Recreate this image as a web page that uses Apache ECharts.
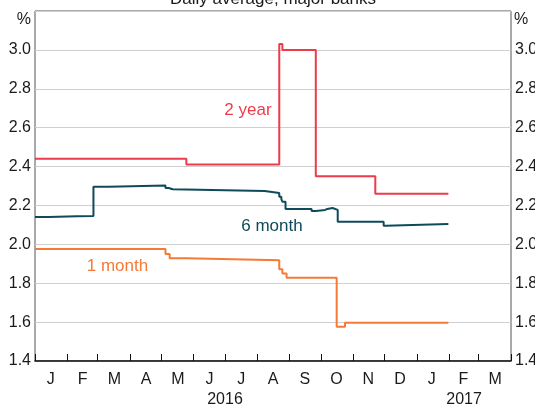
<!DOCTYPE html>
<html><head><meta charset="utf-8">
<script src="https://cdn.jsdelivr.net/npm/echarts@6/dist/echarts.min.js"></script>
<style>html,body{margin:0;padding:0;background:#fff}#c{width:535px;height:408px}</style>
</head><body><div id="c"></div>
<script>
const monthLabels = ['J','F','M','A','M','J','J','A','S','O','N','D','J','F','M'];
const yearLabels = ['2016','2017'];
const yearCentres = ['2016-07-01','2017-02-15'];
const yMin = 1.4, yMax = 3.2, yStep = 0.2;

const twoYear = [
  ['2016-01-01',2.44],['2016-05-25',2.41],['2016-08-22',3.03],['2016-08-25',3.00],
  ['2016-09-26',2.35],['2016-11-22',2.26],['2017-01-31',2.26]
];
const sixMonth = [
  ['2016-01-01',2.141],['2016-01-14',2.144],['2016-02-10',2.146],['2016-02-26',2.296],
  ['2016-03-12',2.303],['2016-05-05',2.29],['2016-05-08',2.283],['2016-05-12',2.274],
  ['2016-08-08',2.264],['2016-08-22',2.245],['2016-08-24',2.233],['2016-08-25',2.219],
  ['2016-08-28',2.182],['2016-09-22',2.171],['2016-09-26',2.177],['2016-10-05',2.182],
  ['2016-10-07',2.187],['2016-10-12',2.177],['2016-10-17',2.116],['2016-11-30',2.096],
  ['2016-12-02',2.104],['2017-01-31',2.104]
];
const oneMonth = [
  ['2016-01-01',1.976],['2016-05-05',1.95],['2016-05-09',1.928],['2016-05-25',1.918],
  ['2016-08-22',1.872],['2016-08-25',1.85],['2016-08-29',1.828],['2016-10-16',1.576],
  ['2016-10-24',1.597],['2017-01-31',1.597]
];

const FONT = '"Liberation Sans", Arial, Helvetica, sans-serif';
const TXT = '#1a1a1a';
const RED = '#ec3b4b', TEAL = '#0e4a5a', ORANGE = '#f47a36';

const chart = echarts.init(document.getElementById('c'), null, {renderer:'canvas'});
const yAxisBase = {
  type:'value', min:yMin, max:yMax, interval:yStep,
  axisLine:{show:false}, axisTick:{show:false},
  axisLabel:{fontFamily:FONT, fontSize:16, color:TXT, margin:4,
    formatter:v => v > 3.1 ? '' : v.toFixed(1)}
};
chart.setOption({
  animation:false,
  textStyle:{fontFamily:FONT},
  grid:{left:35, right:24, top:11, bottom:47, show:true, borderColor:'#555', borderWidth:1,
        backgroundColor:'transparent', outerBoundsMode:'none', containLabel:false},
  xAxis:[
    {type:'time', min:'2016-01-01', max:'2017-04-01', splitNumber:15,
     minInterval:28*86400000, maxInterval:31*86400000,
     axisLine:{lineStyle:{color:'#111', width:1.5}},
     axisTick:{inside:true, length:7, lineStyle:{color:'#111', width:1}},
     axisLabel:{show:false}, splitLine:{show:false}},
    {type:'category', data:monthLabels, position:'bottom', boundaryGap:true,
     axisLine:{show:false}, axisTick:{show:false}, splitLine:{show:false},
     axisLabel:{interval:0, fontFamily:FONT, fontSize:16, color:TXT, margin:11}}
  ],
  yAxis:[
    Object.assign({}, yAxisBase, {position:'left',
      splitLine:{show:true, lineStyle:{color:'#cfcfcf', width:1}}}),
    Object.assign({}, yAxisBase, {position:'right', splitLine:{show:false}})
  ],
  series:[
    {type:'line', name:'2 year', data:twoYear, step:'end', showSymbol:false,
     lineStyle:{color:RED, width:2}, itemStyle:{color:RED}},
    {type:'line', name:'6 month', data:sixMonth, step:'end', showSymbol:false,
     lineStyle:{color:TEAL, width:2}, itemStyle:{color:TEAL}},
    {type:'line', name:'1 month', data:oneMonth, step:'end', showSymbol:false,
     lineStyle:{color:ORANGE, width:2}, itemStyle:{color:ORANGE}}
  ]
});

const gl = [];
const txt = (s, x, y, align, vAlign, size, color) => gl.push({type:'text',
  x:x, y:y, style:{text:s, x:0, y:0, align:align, verticalAlign:vAlign, fontSize:size, fontFamily:FONT, fill:color}});
txt('Daily average, major banks', 273, 8, 'center', 'bottom', 17, TXT);
txt('%', 31, 20, 'right', 'middle', 16, TXT);
txt('%', 514, 20, 'left', 'middle', 16, TXT);
yearLabels.forEach((s,i) => {
  const px = chart.convertToPixel({xAxisIndex:0}, yearCentres[i]);
  txt(s, px, 400, 'center', 'middle', 16, TXT);
});
const lab = (s, date, val, color) => {
  const p = chart.convertToPixel({xAxisIndex:0, yAxisIndex:0}, [date, val]);
  txt(s, p[0], p[1], 'center', 'middle', 17, color);
};
lab('2 year', '2016-07-23', 2.69, RED);
lab('6 month', '2016-08-15', 2.095, TEAL);
lab('1 month', '2016-03-20', 1.885, ORANGE);
chart.setOption({graphic:gl});
</script></body></html>
